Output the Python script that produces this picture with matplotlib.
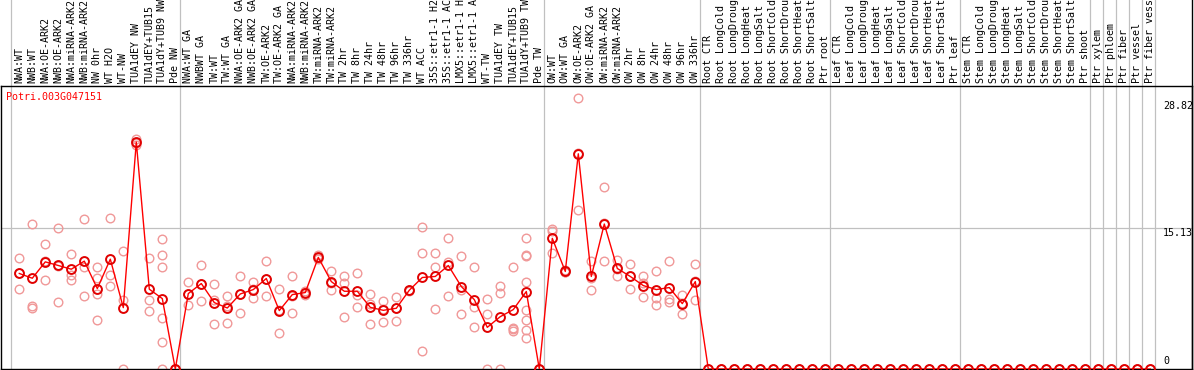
import matplotlib
matplotlib.use("Agg")
import matplotlib.pyplot as plt
from matplotlib.lines import Line2D
from matplotlib.transforms import blended_transform_factory

gene_name = "Potri.003G047151"

labels = [
    "NWA:WT", "NWB:WT", "NWA:OE-ARK2", "NWB:OE-ARK2", "NWA:miRNA-ARK2", "NWB:miRNA-ARK2",
    "NW 0hr", "WT H2O", "WT-NW", "TUA1dEY NW", "TUA1dEY+TUB15", "TUA1dY+TUB9 NW", "Pde NW",
    "NWA:WT GA", "NWBWT GA", "TW:WT", "TW:WT GA", "NWA:OE-ARK2 GA", "NWB:OE-ARK2 GA",
    "TW:OE-ARK2", "TW:OE-ARK2 GA", "NWA:miRNA-ARK2", "NWB:miRNA-ARK2", "TW:miRNA-ARK2",
    "TW:miRNA-ARK2", "TW 2hr", "TW 8hr", "TW 24hr", "TW 48hr", "TW 96hr", "TW 336hr",
    "WT ACC", "35S::etr1-1 H2", "35S::etr1-1 AC", "LMX5::etr1-1 H", "LMX5::etr1-1 A",
    "WT-TW", "TUA1dEY TW", "TUA1dEY+TUB15", "TUA1dY+TUB9 TW", "Pde TW",
    "OW:WT", "OW:WT GA", "OW:OE-ARK2", "OW:OE-ARK2 GA", "OW:miRNA-ARK2", "OW:miRNA-ARK2",
    "OW 2hr", "OW 8hr", "OW 24hr", "OW 48hr", "OW 96hr", "OW 336hr",
    "Root CTR", "Root LongCold", "Root LongDroug", "Root LongHeat", "Root LongSalt",
    "Root ShortCold", "Root ShortDrou", "Root ShortHeat", "Root ShortSalt", "Ptr root",
    "Leaf CTR", "Leaf LongCold", "Leaf LongDroug", "Leaf LongHeat", "Leaf LongSalt",
    "Leaf ShortCold", "Leaf ShortDrou", "Leaf ShortHeat", "Leaf ShortSalt", "Ptr leaf",
    "Stem CTR", "Stem LongCold", "Stem LongDroug", "Stem LongHeat", "Stem LongSalt",
    "Stem ShortCold", "Stem ShortDrou", "Stem ShortHeat", "Stem ShortSalt", "Ptr shoot",
    "Ptr xylem", "Ptr phloem", "Ptr fiber", "Ptr vessel", "Ptr fiber vess",
]

mean_expr = [
    10.27, 9.76, 11.52, 11.13, 10.73, 11.6, 8.65, 11.81, 6.6, 24.4, 8.58, 7.57, 0.0,
    8.11, 9.19, 7.14, 6.56, 8.07, 8.54, 9.73, 6.28, 8.0, 8.22, 12.0, 9.4, 8.36, 8.36,
    6.63, 6.31, 6.53, 8.47, 9.84, 9.95, 11.13, 8.87, 7.46, 4.48, 5.63, 6.39, 8.33, 0.0,
    14.05, 10.49, 23.14, 9.95, 15.59, 10.81, 9.95, 8.97, 8.54, 8.76, 7.03, 9.4,
] + [0.0] * 35

replicates = [
    [11.9, 8.6, 10.3], [15.59, 6.82, 6.56], [13.43, 11.56, 9.55], [15.12, 7.17, 11.1],
    [12.35, 10.09, 9.55], [16.1, 10.92, 7.82], [10.92, 9.76, 8.11, 5.23], [16.2, 10.16, 8.97],
    [12.64, 7.46, 0.0], [24.76, 24.1, 24.35], [11.89, 7.46, 6.28],
    [13.94, 12.21, 10.92, 5.52, 2.93, 0.0], [0.0, 0.0, 0.0],
    [9.4, 6.88, 8.05], [11.13, 7.28, 9.16], [9.19, 7.39, 4.83], [7.9, 4.98, 6.8],
    [10.05, 6.06, 8.1], [9.4, 7.68, 8.55], [11.6, 7.9, 9.7], [8.65, 3.9, 6.3],
    [10.05, 6.06, 7.9], [8.0, 8.4, 8.25], [12.24, 11.9, 11.85], [10.49, 8.47, 9.25],
    [10.05, 9.3, 5.63], [10.27, 8.0, 6.71], [8.11, 7.03, 4.88], [7.36, 5.09, 6.5],
    [7.79, 5.2, 6.6], [8.5, 8.4, 8.5], [15.23, 12.43, 1.96], [12.43, 10.92, 6.49],
    [14.05, 11.46, 7.9], [12.1, 8.54, 5.95], [11.02, 6.71, 4.48], [7.57, 5.95, 0.0],
    [8.97, 8.22, 0.0], [10.92, 4.45, 4.25, 4.05],
    [14.05, 12.21, 12.1, 9.4, 6.39, 5.31, 4.23, 3.37], [0.0, 0.0, 0.0],
    [15.02, 14.8, 12.43], [10.6, 10.38, 10.45], [29.15, 17.1, 23.2], [11.56, 8.54, 9.75],
    [19.55, 11.56, 15.66], [11.67, 10.05, 10.7], [11.24, 8.65, 9.96], [9.95, 9.3, 7.79],
    [10.59, 7.68, 6.93], [11.56, 7.57, 7.25], [8.0, 5.95, 7.14], [11.24, 7.46, 9.5],
] + [[0.0, 0.0, 0.0] for _ in range(35)]

group_starts = [0, 13, 41, 53, 63, 73, 83, 84, 85, 86, 87, 88]
axis_ticks = [28.82, 15.13]
ymax = 30.43

mono = "DejaVu Sans Mono"
fs = 7.2
grey = "#c0c0c0"

fig = plt.figure(figsize=(11.94, 3.70), dpi=100)
ax = fig.add_axes([1 / 1194, 1 - 369 / 370, 1191 / 1194, 283 / 370])
n = len(labels)
x = list(range(n))
ax.set_xlim((1 - 19.3) / 13, (1192 - 19.3) / 13)
ax.set_ylim(0, ymax)
ax.set_xticks([])
ax.set_yticks([])
for s in ax.spines.values():
    s.set_linewidth(1.0)
    s.set_color("black")

# grid lines
for b in group_starts:
    ax.axvline(b - 0.62, ymin=0, ymax=369 / 283, clip_on=False, color=grey, lw=0.9, zorder=0)
ax.axhline(axis_ticks[1], color=grey, lw=0.9, zorder=0)

# replicates
for i, reps in enumerate(replicates):
    ax.plot([i] * len(reps), reps, linestyle="none", marker="o", markersize=6.2,
            markerfacecolor="none", markeredgecolor="#f09898", markeredgewidth=1.0, zorder=2)

# mean line
ax.plot(x, mean_expr, color="red", lw=1.0, zorder=3)
ax.plot(x, mean_expr, linestyle="none", marker="o", markersize=6.4,
        markerfacecolor="none", markeredgecolor="#e00000", markeredgewidth=1.4, zorder=4)

# category labels
trans = blended_transform_factory(ax.transData, fig.transFigure)
for i, lab in enumerate(labels):
    ax.text(i, 1 - 83 / 370, lab, rotation=90, ha="center", va="bottom",
            family=mono, fontsize=fs, color="black", transform=trans, clip_on=False)

# gene name
fig.text(6 / 1194, 1 - 97 / 370, gene_name, ha="left", va="center", family=mono,
         fontsize=fs, color="red")

# right axis values
fig.text(1163 / 1194, 1 - 101 / 370, f"{axis_ticks[0]:.2f}", ha="left", va="top",
         family=mono, fontsize=fs, color="black")
fig.text(1163 / 1194, 1 - 228 / 370, f"{axis_ticks[1]:.2f}", ha="left", va="top",
         family=mono, fontsize=fs, color="black")
fig.text(1163 / 1194, 1 - 366 / 370, "0", ha="left", va="bottom",
         family=mono, fontsize=fs, color="black")

# right border extends to top
fig.add_artist(Line2D([1191.5 / 1194, 1191.5 / 1194], [0, 1], color="black", lw=1.0))

fig.savefig("out.png", dpi=100)
